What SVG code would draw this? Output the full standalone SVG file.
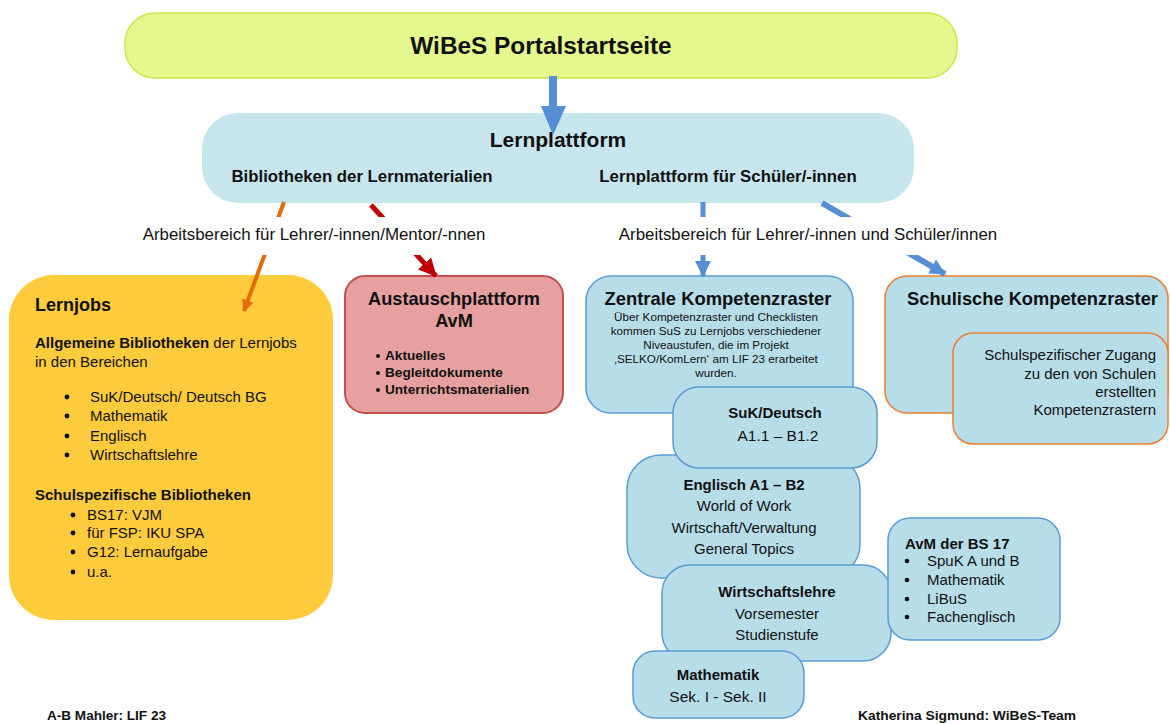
<svg xmlns="http://www.w3.org/2000/svg" width="1170" height="724" viewBox="0 0 1170 724">
<style>
text{font-family:"Liberation Sans",Arial,sans-serif;fill:#111}
.b{font-weight:bold}
.c{text-anchor:middle}
.r{text-anchor:end}
.blue{fill:#b7dde8;stroke:#5b9bd5;stroke-width:1.5}
.org{fill:#b7dde8;stroke:#ed7d31;stroke-width:1.5}
</style>
<defs>
<marker id="hO" markerUnits="userSpaceOnUse" markerWidth="14" markerHeight="14" refX="11" refY="7" orient="auto"><path d="M0,1 L12,7 L0,13 z" fill="#e36c09"/></marker>
<marker id="hR" markerUnits="userSpaceOnUse" markerWidth="20" markerHeight="20" refX="17" refY="10" orient="auto"><path d="M0,1 L18,10 L0,19 z" fill="#c00000"/></marker>
<marker id="hB" markerUnits="userSpaceOnUse" markerWidth="18" markerHeight="18" refX="15" refY="9" orient="auto"><path d="M0,1 L16,9 L0,17 z" fill="#558ed5"/></marker>
</defs>
<rect width="1170" height="724" fill="#fff"/>

<g id="n-wibes">
<rect x="125" y="13" width="832" height="65" rx="30" fill="#e4f88e" stroke="#d4e04c" stroke-width="1.5"/>
<text x="541" y="54" class="b c" font-size="24.4">WiBeS Portalstartseite</text>
</g>

<g id="n-lernplattform">
<rect x="202" y="113" width="712" height="90" rx="36" fill="#c6e5ed"/>
<text x="558" y="147" class="b c" font-size="21">Lernplattform</text>
<text x="362" y="182" class="b c" font-size="16.8">Bibliotheken der Lernmaterialien</text>
<text x="728" y="182" class="b c" font-size="16.8">Lernplattform für Schüler/-innen</text>
</g>

<g id="n-lernjobs">
<rect x="9" y="275" width="324" height="345" rx="45" fill="#fecb3c"/>
<text x="35" y="311" class="b" font-size="18">Lernjobs</text>
<text x="35" y="348" font-size="15"><tspan class="b">Allgemeine Bibliotheken</tspan> der Lernjobs</text>
<text x="35" y="367" font-size="15">in den Bereichen</text>
<g font-size="15">
<circle cx="67" cy="397" r="2.4" fill="#111"/><text x="90" y="402">SuK/Deutsch/ Deutsch BG</text>
<circle cx="67" cy="416" r="2.4" fill="#111"/><text x="90" y="421">Mathematik</text>
<circle cx="67" cy="436" r="2.4" fill="#111"/><text x="90" y="441">Englisch</text>
<circle cx="67" cy="455" r="2.4" fill="#111"/><text x="90" y="460">Wirtschaftslehre</text>
</g>
<text x="35" y="500" class="b" font-size="15">Schulspezifische Bibliotheken</text>
<g font-size="15">
<circle cx="73" cy="515" r="2.4" fill="#111"/><text x="87" y="520">BS17: VJM</text>
<circle cx="73" cy="533" r="2.4" fill="#111"/><text x="87" y="538">für FSP: IKU SPA</text>
<circle cx="73" cy="552" r="2.4" fill="#111"/><text x="87" y="557">G12: Lernaufgabe</text>
<circle cx="73" cy="572" r="2.4" fill="#111"/><text x="87" y="577">u.a.</text>
</g>
</g>

<g id="n-austausch">
<rect x="345" y="276" width="218" height="137" rx="20" fill="#e6a0a0" stroke="#c0504d" stroke-width="2"/>
<text x="454" y="305" class="b c" font-size="18.2">Austauschplattform</text>
<text x="454" y="327" class="b c" font-size="18.2">AvM</text>
<g class="b" font-size="13.6">
<circle cx="378" cy="356" r="2" fill="#111"/><text x="385" y="360">Aktuelles</text>
<circle cx="378" cy="373" r="2" fill="#111"/><text x="385" y="377">Begleitdokumente</text>
<circle cx="378" cy="390" r="2" fill="#111"/><text x="385" y="394">Unterrichtsmaterialien</text>
</g>
</g>

<g id="n-zentrale">
<rect x="586" y="276" width="267" height="137" rx="25" class="blue"/>
<text x="718" y="305" class="b c" font-size="18.4">Zentrale Kompetenzraster</text>
<g font-size="11.7" class="c">
<text x="716" y="321">Über Kompetenzraster und Checklisten</text>
<text x="716" y="335">kommen SuS zu Lernjobs verschiedener</text>
<text x="716" y="349">Niveaustufen, die im Projekt</text>
<text x="716" y="363">‚SELKO/KomLern‘ am LIF 23 erarbeitet</text>
<text x="716" y="377">wurden.</text>
</g>
</g>

<g id="n-englisch">
<rect x="627" y="455" width="233" height="123" rx="34" class="blue"/>
<text x="744" y="490" class="b c" font-size="15">Englisch A1 – B2</text>
<text x="744" y="511" class="c" font-size="15">World of Work</text>
<text x="744" y="533" class="c" font-size="15">Wirtschaft/Verwaltung</text>
<text x="744" y="554" class="c" font-size="15">General Topics</text>
</g>

<g id="n-suk">
<rect x="673" y="387" width="204" height="81" rx="26" class="blue"/>
<text x="775" y="418" class="b c" font-size="15">SuK/Deutsch</text>
<text x="778" y="441" class="c" font-size="15.5">A1.1 – B1.2</text>
</g>

<g id="n-wirtschaft">
<rect x="662" y="565" width="229" height="96" rx="28" class="blue"/>
<text x="777" y="597" class="b c" font-size="15">Wirtschaftslehre</text>
<text x="777" y="619" class="c" font-size="15">Vorsemester</text>
<text x="777" y="640" class="c" font-size="15">Studienstufe</text>
</g>

<g id="n-mathe">
<rect x="633" y="651" width="171" height="67" rx="22" class="blue"/>
<text x="718" y="680" class="b c" font-size="15">Mathematik</text>
<text x="718" y="702" class="c" font-size="15.5">Sek. I - Sek. II</text>
</g>

<g id="n-avm">
<rect x="888" y="518" width="172" height="122" rx="22" class="blue"/>
<text x="905" y="549" class="b" font-size="15">AvM der BS 17</text>
<g font-size="15">
<circle cx="907" cy="561" r="2.3" fill="#111"/><text x="927" y="566">SpuK A und B</text>
<circle cx="907" cy="580" r="2.3" fill="#111"/><text x="927" y="585">Mathematik</text>
<circle cx="907" cy="599" r="2.3" fill="#111"/><text x="927" y="604">LiBuS</text>
<circle cx="907" cy="617" r="2.3" fill="#111"/><text x="927" y="622">Fachenglisch</text>
</g>
</g>

<g id="n-schulisch">
<rect x="885" y="276" width="283" height="137" rx="22" class="org"/>
<text x="1158" y="305" class="b r" font-size="18.3">Schulische Kompetenzraster</text>
<rect x="953" y="333" width="215" height="111" rx="20" class="org"/>
<g font-size="15" class="r">
<text x="1156" y="360">Schulspezifischer Zugang</text>
<text x="1156" y="379">zu den von Schulen</text>
<text x="1156" y="397">erstellten</text>
<text x="1156" y="415">Kompetenzrastern</text>
</g>
</g>

<g id="connectors">
<rect x="549" y="76" width="8" height="33" fill="#558ed5"/>
<path d="M541,106 L566,106 L553,135 z" fill="#558ed5"/>
<line x1="284" y1="202" x2="244" y2="311" stroke="#e36c09" stroke-width="4" marker-end="url(#hO)"/>
<line x1="371" y1="205" x2="436" y2="276" stroke="#c00000" stroke-width="5" marker-end="url(#hR)"/>
<line x1="703" y1="202" x2="703" y2="276" stroke="#558ed5" stroke-width="5" marker-end="url(#hB)"/>
<line x1="822" y1="203" x2="945" y2="274" stroke="#558ed5" stroke-width="6" marker-end="url(#hB)"/>
</g>

<g id="labels">
<rect x="136" y="217" width="358" height="38" fill="#fff"/>
<text x="314" y="240" class="c" font-size="16.9">Arbeitsbereich für Lehrer/-innen/Mentor/-nnen</text>
<rect x="612" y="217" width="392" height="38" fill="#fff"/>
<text x="808" y="240" class="c" font-size="16.9">Arbeitsbereich für Lehrer/-innen und Schüler/innen</text>
</g>

<g id="footer" font-size="12" font-weight="bold">
<text x="47" y="720" textLength="119" lengthAdjust="spacingAndGlyphs">A-B Mahler: LIF 23</text>
<text x="858" y="720" textLength="218" lengthAdjust="spacingAndGlyphs">Katherina Sigmund: WiBeS-Team</text>
</g>
</svg>
